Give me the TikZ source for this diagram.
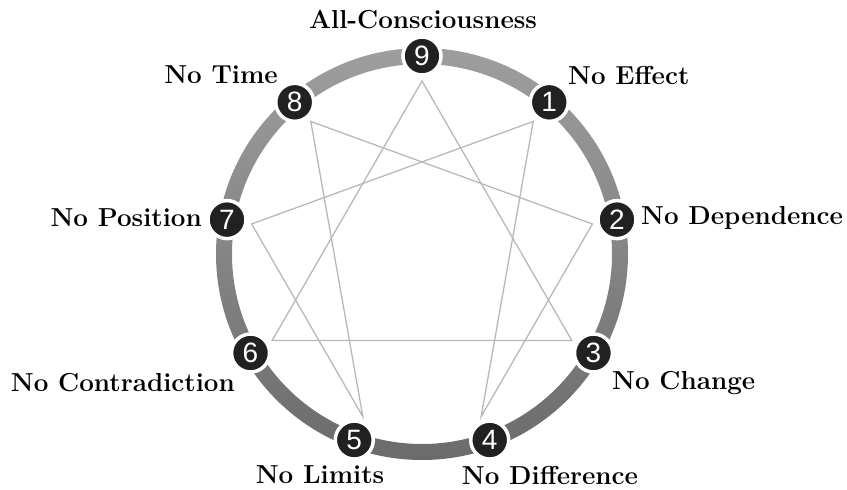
\documentclass[tikz,border=0pt]{standalone}
\usepackage{fontspec}
\newfontfamily\numfont{Liberation Sans}
\usetikzlibrary{positioning,calc}
\definecolor{ringtop}{gray}{0.62}
\definecolor{ringbot}{gray}{0.42}
\definecolor{dotfill}{gray}{0.13}
\definecolor{linegray}{gray}{0.72}

\begin{document}
\begin{tikzpicture}[x=1pt, y=1pt,
  num/.style={circle, fill=dotfill, draw=white, line width=3.5pt,
              minimum size=38pt, inner sep=0pt, text=white,
              font=\numfont\fontsize{28}{28}\selectfont},
  lbl/.style={font=\fontsize{26}{30}\selectfont\bfseries, inner sep=0pt},
  star/.style={draw=linegray, line width=1.3pt}
]
\useasboundingbox (-422,-236) rectangle (425,254);

% the ring
\shade[top color=ringtop, bottom color=ringbot, even odd rule]
  (0,0) circle (206) (0,0) circle (190);

% inner ends of the lines
\foreach \k in {1,...,9}
  \coordinate (p\k) at (90-40*\k:173);

\draw[star] (p9) -- (p3) -- (p6) -- cycle;
\draw[star] (p1) -- (p4) -- (p2) -- (p8) -- (p5) -- (p7) -- cycle;

% numbered points
\foreach \k in {1,...,9}
  \node[num] (n\k) at (90-40*\k:198) {\k};

\node[lbl] (t9) at (1,234) {All-Consciousness};
\node[lbl, anchor=west] (t1) at (146,179) {No Effect};
\node[lbl, anchor=west] (t2) at (219,36) {No Dependence};
\node[lbl, anchor=west] (t3) at (190,-129) {No Change};
\node[lbl] (t4) at (128,-221) {No Difference};
\node[lbl] (t5) at (-102,-221) {No Limits};
\node[lbl, anchor=east] (t6) at (-187,-129) {No Contradiction};
\node[lbl, anchor=east] (t7) at (-220,36) {No Position};
\node[lbl, anchor=east] (t8) at (-144,179) {No Time};
\end{tikzpicture}
\end{document}
